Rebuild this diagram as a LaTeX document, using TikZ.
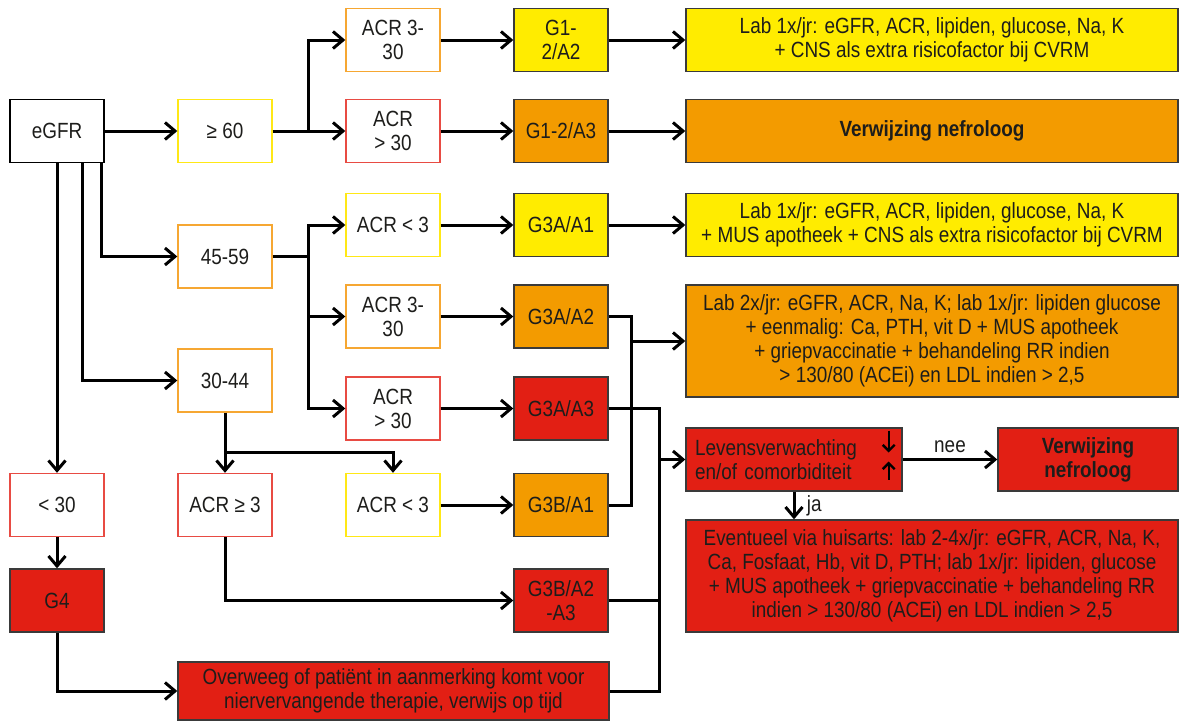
\documentclass[tikz,border=0pt]{standalone}
\usepackage{fontspec}
\setmainfont{Liberation Sans}[FakeStretch=0.86]
\usepackage{tikz}
\usetikzlibrary{arrows.meta,positioning,calc}
\definecolor{ylw}{HTML}{FFEC00}
\definecolor{org}{HTML}{F39B00}
\definecolor{rd}{HTML}{E21F14}
\definecolor{ylwline}{HTML}{FFE816}
\definecolor{orgline}{HTML}{F6A732}
\definecolor{rdline}{HTML}{E84B43}
\definecolor{edge}{HTML}{3A3A3A}
\definecolor{ink}{HTML}{1D1D1B}

\begin{document}
\begin{tikzpicture}[x=1pt,y=-1pt,
    font=\fontsize{22}{24}\selectfont, text=ink,
    box/.style={minimum width=94pt, minimum height=63pt, align=center, inner sep=2pt, line width=1.4pt},
    wbox/.style={box, draw=black},
    ybox/.style={box, draw=ylwline},
    obox/.style={box, draw=orgline},
    rbox/.style={box, draw=rdline},
    yfill/.style={box, draw=edge, fill=ylw},
    ofill/.style={box, draw=edge, fill=org},
    rfill/.style={box, draw=edge, fill=rd},
    wide/.style={minimum width=492pt},
    line/.style={line width=3pt},
    arr/.style={line, -{Straight Barb[length=10pt,width=17pt]}},
    small/.style={line width=2.4pt, -{Straight Barb[length=6pt,width=12pt]}}]
  \useasboundingbox (0,0) rectangle (1180,721);
  \path
  (57,131) node[wbox](egfr) {eGFR}
  (57,505) node[rbox](lt30) {< 30}
  (57,600.5) node[rfill](g4) {G4}
  (225,131) node[ybox](ge60) {≥ 60}
  (225,256.5) node[obox](r4559) {45-59}
  (225,380.5) node[obox](r3044) {30-44}
  (225,505) node[rbox](acrge3) {ACR ≥ 3}
  (393.5,691) node[rfill,minimum width=431pt,minimum height=58pt](overweeg) {Overweeg of patiënt in aanmerking komt voor\\niervervangende therapie, verwijs op tijd}
  (393,40) node[obox](acra) {ACR 3-\\30}
  (393,131) node[rbox](acrb) {ACR\\> 30}
  (393,225) node[ybox](acrc) {ACR < 3}
  (393,316.5) node[obox](acrd) {ACR 3-\\30}
  (393,408.5) node[rbox](acre) {ACR\\> 30}
  (393,505) node[ybox](acrf) {ACR < 3}
  (561,40) node[yfill](g12a2) {G1-\\2/A2}
  (561,131) node[ofill](g12a3) {G1-2/A3}
  (561,225) node[yfill](g3aa1) {G3A/A1}
  (561,316.5) node[ofill](g3aa2) {G3A/A2}
  (561,408.5) node[rfill](g3aa3) {G3A/A3}
  (561,505) node[ofill](g3ba1) {G3B/A1}
  (561,600.5) node[rfill](g3ba2) {G3B/A2\\-A3}
  (932,40) node[yfill,wide](lab1) {Lab 1x/jr: eGFR, ACR, lipiden, glucose, Na, K\\+ CNS als extra risicofactor bij CVRM}
  (932,131) node[ofill,wide](verw1) {\bfseries Verwijzing nefroloog}
  (932,225) node[yfill,wide](lab2) {Lab 1x/jr: eGFR, ACR, lipiden, glucose, Na, K\\+ MUS apotheek + CNS als extra risicofactor bij CVRM}
  (932,341) node[ofill,wide,minimum height=112pt](lab3) {Lab 2x/jr: eGFR, ACR, Na, K; lab 1x/jr: lipiden glucose\\+ eenmalig: Ca, PTH, vit D + MUS apotheek\\+ griepvaccinatie + behandeling RR indien\\> 130/80 (ACEi) en LDL indien > 2,5}
  (794,459.5) node[rfill,align=left,text width=198pt,inner xsep=9pt](leven) {Levensverwachting\\en/of comorbiditeit}
  (1088,459.5) node[rfill,minimum width=180pt](verw2) {\bfseries Verwijzing\\\bfseries nefroloog}
  (932,576) node[rfill,wide,minimum height=112pt](event) {Eventueel via huisarts: lab 2-4x/jr: eGFR, ACR, Na, K,\\Ca, Fosfaat, Hb, vit D, PTH; lab 1x/jr: lipiden, glucose\\+ MUS apotheek + griepvaccinatie + behandeling RR\\indien > 130/80 (ACEi) en LDL indien > 2,5}
  ;
  \coordinate (j1) at (308,131);
  \coordinate (j2) at (308,256.5);
  \coordinate (j3) at (225,452);
  \coordinate (k1) at (631,341);
  \coordinate (k2) at (659,459.5);

  \draw[arr] (egfr) -- (ge60);
  \draw[line] (ge60) -- (j1);
  \draw[arr] (j1) |- (acra.west);
  \draw[arr] (j1) -- (acrb);
  \draw[arr] ([xshift=44pt]egfr.south) |- (r4559.west);
  \draw[arr] ([xshift=25pt]egfr.south) |- (r3044.west);
  \draw[arr] (egfr) -- (lt30);
  \draw[arr] (lt30) -- (g4);
  \draw[arr] (g4) |- (overweeg.west);
  \draw[line] (r4559) -- (j2);
  \draw[arr] (j2) |- (acrc.west);
  \draw[arr] (j2) |- (acrd.west);
  \draw[arr] (j2) |- (acre.west);
  \draw[line] (r3044) -- (j3);
  \draw[arr] (j3) -- (acrge3);
  \draw[arr] (j3) -| (acrf.north);
  \draw[arr] (acrge3) |- (g3ba2.west);
  \draw[arr] (acra) -- (g12a2);
  \draw[arr] (acrb) -- (g12a3);
  \draw[arr] (acrc) -- (g3aa1);
  \draw[arr] (acrd) -- (g3aa2);
  \draw[arr] (acre) -- (g3aa3);
  \draw[arr] (acrf) -- (g3ba1);
  \draw[arr] (g12a2) -- (lab1);
  \draw[arr] (g12a3) -- (verw1);
  \draw[arr] (g3aa1) -- (lab2);
  \draw[line] (g3aa2.east) -| (k1) |- (g3ba1.east);
  \draw[arr] (k1) -- (lab3);
  \draw[line] (g3aa3.east) -| (k2) |- (overweeg.east);
  \draw[line] (g3ba2.east) -- (g3ba2.east -| k2);
  \draw[arr] (k2) -- (leven);
  \draw[arr] (leven) -- node[above=2pt] {nee} (verw2);
  \draw[arr] (leven) -- node[right=8pt] {ja} (leven |- event.north);
  \draw[small] ([xshift=-14pt,yshift=-20pt]leven.center -| leven.east) -- ([xshift=-14pt,yshift=-2pt]leven.center -| leven.east);
  \draw[small] ([xshift=-14pt,yshift=29pt]leven.center -| leven.east) -- ([xshift=-14pt,yshift=7pt]leven.center -| leven.east);
\end{tikzpicture}
\end{document}
